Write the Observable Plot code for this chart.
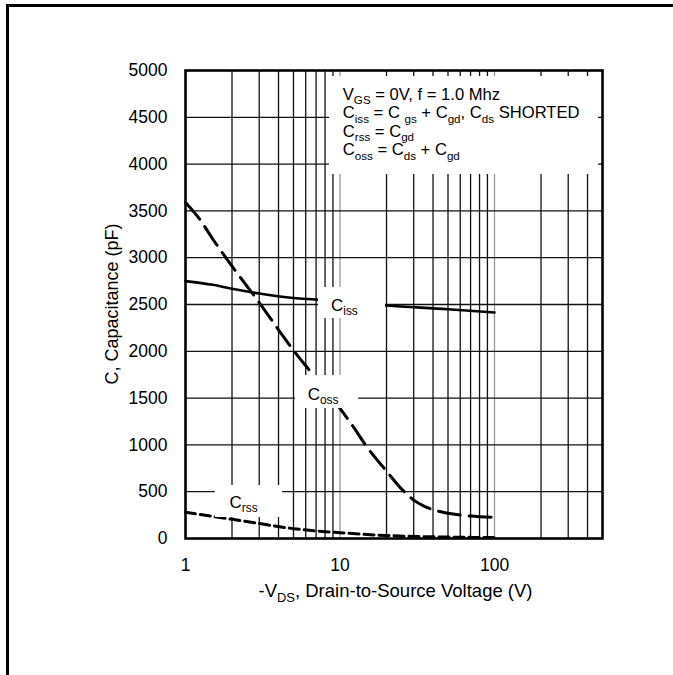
<!DOCTYPE html>
<html><head><meta charset="utf-8">
<script src="https://cdn.jsdelivr.net/npm/d3@7"></script>
<script src="https://cdn.jsdelivr.net/npm/@observablehq/plot@0.6"></script>
<style>
body{margin:0;background:#fff;}
#wrap{position:relative;width:673px;height:675px;overflow:hidden;}
#border{position:absolute;left:6px;top:4px;width:700px;height:700px;border-left:3px solid #000;border-top:3px solid #000;}
#chart{position:absolute;left:0;top:0;}
</style></head><body>
<div id="wrap"><div id="border"></div><div id="chart"></div></div>
<script>
// ---- data ----
const xTicks = [1, 10, 100];
const yTicks = [0, 500, 1000, 1500, 2000, 2500, 3000, 3500, 4000, 4500, 5000];
const gridXDark = [2,3,4,5,6,7,8,9,20,30,40,50,60,70,80,90,200,300,400];
const gridXLight = [10, 100];
const gridY = [500,1000,1500,2000,2500,3000,3500,4000,4500];

const vIss = [1, 1.5, 2, 3, 5, 7, 10, 20, 50, 100];
const cIss = [2750, 2710, 2668, 2618, 2570, 2552, 2530, 2489, 2450, 2415];

const vOss = [1, 1.25, 1.5, 2, 3, 4, 5, 7, 10, 12, 15, 20, 25, 30, 35, 45, 70, 100];
const cOss = [3590, 3400, 3200, 2910, 2520, 2230, 2010, 1710, 1390, 1210, 975, 720, 530, 410, 345, 285, 240, 225];

const vRss = [1, 2, 3, 5, 10, 20, 50, 100];
const cRss = [280, 205, 160, 105, 62, 32, 15, 10];

// curve labels: name, subscript, text anchor (data units), white box (data units)
const lblMain = ["C", "C", "C"];
const lblSub = ["iss", "oss", "rss"];
const lblX = [8.81, 6.22, 1.94];
const lblY = [2425, 1474, 320];
const boxX1 = [7.26, 5.15, 1.56];
const boxX2 = [19.7, 13.2, 4.25];
const boxY1 = [2350, 1389, 224];
const boxY2 = [2682, 1741, 566];

// annotation box
const noteBoxX1 = [8.55];
const noteBoxX2 = [471];
const noteBoxY1 = [3889];
const noteBoxY2 = [4936];
const noteX = 10.5;
const noteY = 4680;
const noteLines = [
  [["V",0],["GS",1],[" = 0V, f = 1.0 Mhz",0]],
  [["C",0],["iss",1],[" = C ",0],["gs",1],[" + C",0],["gd",1],[", C",0],["ds",1],[" SHORTED",0]],
  [["C",0],["rss",1],[" = C",0],["gd",1]],
  [["C",0],["oss",1],[" = C",0],["ds",1],[" + C",0],["gd",1]]
];
const xLabel = [["-V",0],["DS",1],[", Drain-to-Source Voltage (V)",0]];
const yLabel = "C, Capacitance (pF)";

// ---- build ----
const iss = vIss.map((v,i)=>({v, c:cIss[i]}));
const oss = vOss.map((v,i)=>({v, c:cOss[i]}));
const rss = vRss.map((v,i)=>({v, c:cRss[i]}));
const boxes = boxX1.map((d,i)=>({x1:d, x2:boxX2[i], y1:boxY1[i], y2:boxY2[i]}));
const noteBox = noteBoxX1.map((d,i)=>({x1:d, x2:noteBoxX2[i], y1:noteBoxY1[i], y2:noteBoxY2[i]}));

const FONT = "'Liberation Sans', Arial, Helvetica, sans-serif";

const chart = Plot.plot({
  width: 673, height: 675,
  marginLeft: 185, marginRight: 71, marginTop: 70, marginBottom: 137,
  style: {fontFamily: FONT, fontSize: "17.5px", background: "transparent", color: "#000"},
  x: {type: "log", domain: [1, 500], ticks: xTicks, tickFormat: d => String(d), tickSize: 0, tickPadding: 20, label: null},
  y: {domain: [0, 5000], ticks: yTicks, tickFormat: d => String(d), tickSize: 0, tickPadding: 18, label: null},
  marks: [
    Plot.ruleX(gridXDark, {stroke: "#111", strokeWidth: 1.3}),
    Plot.ruleX(gridXLight, {stroke: "#999", strokeWidth: 1.3}),
    Plot.ruleY(gridY, {stroke: "#111", strokeWidth: 1.3}),
    Plot.line(iss, {x: "v", y: "c", stroke: "#000", strokeWidth: 2.6, curve: "monotone-x"}),
    Plot.line(oss, {x: "v", y: "c", stroke: "#000", strokeWidth: 3, strokeDasharray: "22,9", curve: "monotone-x"}),
    Plot.line(rss, {x: "v", y: "c", stroke: "#000", strokeWidth: 3, strokeDasharray: "10,5", curve: "monotone-x"}),
    Plot.rect(boxes, {x1: "x1", x2: "x2", y1: "y1", y2: "y2", fill: "white"}),
    Plot.rect(noteBox, {x1: "x1", x2: "x2", y1: "y1", y2: "y2", fill: "white"}),
    Plot.frame({stroke: "#000", strokeWidth: 2.6})
  ]
});
document.getElementById("chart").appendChild(chart);

const xs = chart.scale("x"), ys = chart.scale("y");
const svg = d3.select(chart);

function richText(g, parts, size, anchor) {
  const t = g.append("text").attr("font-family", FONT).attr("font-size", size)
    .attr("fill", "#000").attr("text-anchor", anchor || "start");
  let shifted = false;
  parts.forEach(([s, sub]) => {
    const sp = t.append("tspan").text(s);
    if (sub && !shifted) { sp.attr("font-size", size * 0.7).attr("dy", size * 0.25); shifted = true; }
    else if (sub && shifted) { sp.attr("font-size", size * 0.7); }
    else if (!sub && shifted) { sp.attr("dy", -size * 0.25); shifted = false; }
    sp.style("white-space", "pre");
  });
  return t;
}

// curve labels
lblMain.forEach((m, i) => {
  const g = svg.append("g").attr("transform", `translate(${xs.apply(lblX[i])},${ys.apply(lblY[i])})`);
  richText(g, [[m,0],[lblSub[i],1]], 17, "start");
});

// annotation
noteLines.forEach((line, i) => {
  const g = svg.append("g").attr("transform", `translate(${xs.apply(noteX)},${ys.apply(noteY) + i * 18.5})`);
  richText(g, line, 16.6, "start");
});

// axis labels
{
  const g = svg.append("g").attr("transform", `translate(${(xs.apply(1) + xs.apply(500)) / 2 + 2},${597})`);
  richText(g, xLabel, 18.5, "middle");
}
{
  const g = svg.append("g").attr("transform", `translate(118,${(ys.apply(0) + ys.apply(5000)) / 2}) rotate(-90)`);
  richText(g, [[yLabel,0]], 18, "middle");
}
</script>
</body></html>
